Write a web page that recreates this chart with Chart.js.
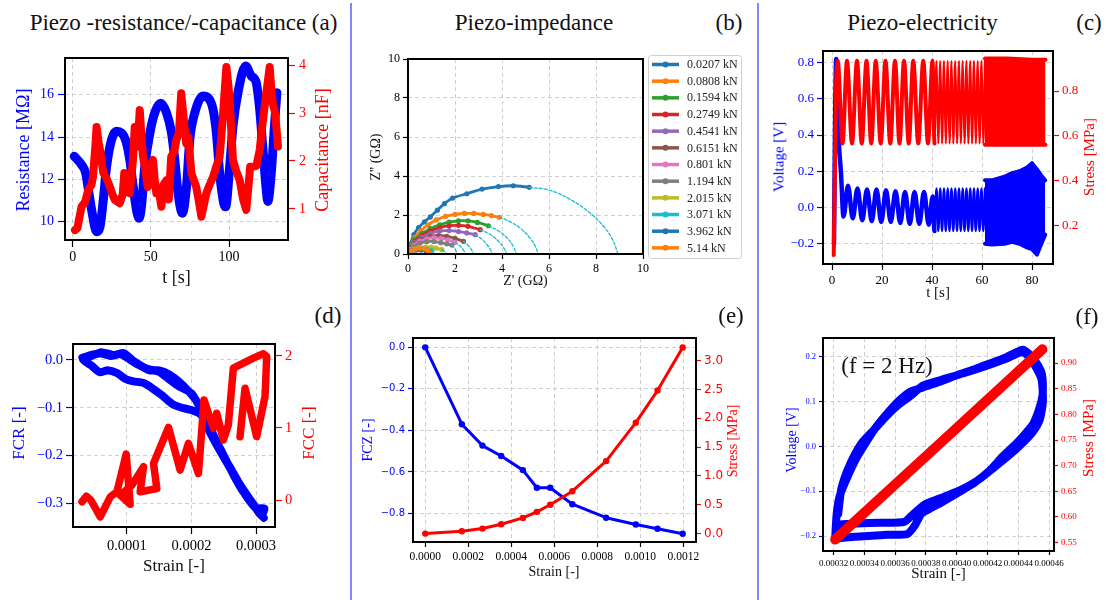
<!DOCTYPE html>
<html>
<head>
<meta charset="utf-8">
<title>Piezo responses</title>
<script src="https://cdn.jsdelivr.net/npm/chart.js@4.4.0/dist/chart.umd.min.js"></script>
<style>
  html, body { margin: 0; padding: 0; background: #fff; overflow: hidden; }
  #page { position: relative; width: 1106px; height: 600px; }
  #page canvas { position: absolute; z-index: 1; }
  .lbl { position: absolute; z-index: 2; white-space: nowrap; line-height: 1;
         font-family: 'Liberation Serif', 'Times New Roman', serif; color: #111;
         transform: translate(-50%, -50%); }
  .rot { transform: translate(-50%, -50%) rotate(-90deg); }
  .blue { color: #0000ff; }
  .red { color: #ff0000; }
  .sep { position: absolute; top: 3px; width: 2px; height: 597px; background: #8585ff; }
</style>
</head>
<body>
<div id="page">
  <div class="sep" style="left:350px"></div>
  <div class="sep" style="left:757px"></div>

  <div class="lbl" style="left:183.5px;top:22px;font-size:23px">Piezo -resistance/-capacitance (a)</div>
  <div class="lbl" style="left:534px;top:22px;font-size:23px">Piezo-impedance</div>
  <div class="lbl" style="left:729px;top:22px;font-size:23px">(b)</div>
  <div class="lbl" style="left:922.5px;top:22px;font-size:23px">Piezo-electricity</div>
  <div class="lbl" style="left:1089px;top:22px;font-size:23px">(c)</div>
  <div class="lbl" style="left:328px;top:315px;font-size:23px">(d)</div>
  <div class="lbl" style="left:731px;top:315px;font-size:23px">(e)</div>
  <div class="lbl" style="left:1087px;top:316px;font-size:23px">(f)</div>

  <div class="lbl rot blue" style="left:22.5px;top:150px;font-size:18px">Resistance [MΩ]</div>
  <div class="lbl rot red" style="left:321.5px;top:150px;font-size:18px">Capacitance [nF]</div>
  <div class="lbl" style="left:176.5px;top:277px;font-size:18px">t [s]</div>

  <div class="lbl rot" style="left:376px;top:157px;font-size:14px">Z'' (GΩ)</div>
  <div class="lbl" style="left:525.5px;top:281px;font-size:14px">Z' (GΩ)</div>

  <div class="lbl rot blue" style="left:779px;top:157px;font-size:15px">Voltage [V]</div>
  <div class="lbl rot red" style="left:1089px;top:157px;font-size:15px">Stress [MPa]</div>
  <div class="lbl" style="left:938px;top:292px;font-size:15px">t [s]</div>

  <div class="lbl rot blue" style="left:18px;top:433px;font-size:17px">FCR [-]</div>
  <div class="lbl rot red" style="left:307.5px;top:433px;font-size:17px">FCC [-]</div>
  <div class="lbl" style="left:174px;top:565px;font-size:17px">Strain [-]</div>

  <div class="lbl rot blue" style="left:368px;top:440px;font-size:14px">FCZ [-]</div>
  <div class="lbl rot red" style="left:733px;top:441px;font-size:14px">Stress [MPa]</div>
  <div class="lbl" style="left:554px;top:572px;font-size:14px">Strain [-]</div>

  <div class="lbl rot blue" style="left:791.5px;top:440px;font-size:14px">Voltage [V]</div>
  <div class="lbl rot red" style="left:1088px;top:438px;font-size:15px">Stress [MPa]</div>
  <div class="lbl" style="left:938.5px;top:573px;font-size:15px">Strain [-]</div>
  <div class="lbl" style="left:887px;top:365px;font-size:23px">(f = 2 Hz)</div>
</div>

<script>
/* ---------- (a) resistance and capacitance over time ---------- */
const aTimeR = [1, 5.7, 8.3, 10.4, 12.5, 15.3, 17.5, 19.6, 21.7, 24.9, 28, 31.2, 34.4, 36.5, 38.7,
  40.8, 42.5, 44, 46.1, 49.4, 52.5, 56.3, 60, 63.2, 65.3, 67.4, 70.2, 72.8, 74.9, 78.1, 83.4, 86.6,
  89.8, 91.9, 94, 96.6, 97.8, 100.4, 102.5, 105.7, 110.6, 114.2, 117.4, 119.6, 121.7, 123.8, 124.8,
  127, 129, 130.6];
const aResistance = [13.09, 12.69, 12.3, 11.35, 10.4, 9.52, 9.76, 11.03, 12.6, 13.88, 14.27, 14.2,
  13.72, 12.93, 11.66, 10.56, 10.16, 10.71, 12.6, 14.2, 15.15, 15.6, 15.15, 14.2, 12.93, 11.35, 10.4,
  11.66, 13.88, 15.15, 15.94, 15.86, 15.3, 14.2, 12.3, 10.87, 10.7, 12.6, 14.5, 16.1, 17.36, 16.89,
  16.57, 15.3, 13.4, 11.5, 10.95, 12.3, 14.5, 16.1];
const aTimeC = [1.5, 3, 5.7, 8, 10, 12, 13, 14.5, 15.3, 16.5, 17.5, 19.6, 21.5, 23.8, 25.5, 27, 30.1,
  32, 33, 34.5, 36.5, 38.5, 39.7, 41.5, 42.9, 44, 45, 46.5, 48, 49.5, 51.4, 52.5, 53.5, 55, 56.7, 58,
  60, 61.5, 63, 65, 66.3, 68, 69.4, 71, 72.6, 74, 75.9, 77.5, 79, 80.5, 82.3, 84, 85.5, 87.5, 89.8, 92,
  94, 96, 98.3, 99.5, 100.4, 101.5, 102.5, 104.5, 106.8, 109, 111, 112.5, 113.5, 115.3, 117.5, 119.6,
  121.5, 123.8, 126, 127, 128, 129.5, 131.3];
const aCapacitance = [0.56, 0.6, 1.05, 1.15, 1.4, 1.5, 1.67, 2.3, 2.71, 2.4, 2.23, 1.75, 1.65, 1.46,
  1.3, 1.19, 1.12, 1.3, 1.75, 1.7, 1.33, 2.0, 2.71, 2.3, 3.06, 2.5, 2.09, 1.8, 1.46, 1.9, 2.02, 1.6,
  1.33, 1.4, 1.05, 1.5, 1.6, 1.2, 2.09, 2.2, 2.44, 2.6, 3.41, 2.9, 2.37, 2.5, 1.75, 1.6, 1.46, 1.2,
  0.84, 1.1, 1.33, 1.5, 1.67, 1.9, 2.09, 2.9, 3.96, 3.6, 3.27, 2.6, 2.02, 1.8, 1.6, 1.2, 0.98, 1.5,
  1.88, 1.88, 1.9, 2.23, 2.8, 3.41, 3.96, 3.5, 3.2, 3.0, 2.3];
const aTimeTicks = [0, 50, 100];
const aResTicks = [10, 12, 14, 16];
const aCapTicks = [1, 2, 3, 4];

/* ---------- (b) Nyquist plots per load ---------- */
const bLoads = ['0.0207 kN', '0.0808 kN', '0.1594 kN', '0.2749 kN', '0.4541 kN', '0.6151 kN',
  '0.801 kN', '1.194 kN', '2.015 kN', '3.071 kN', '3.962 kN', '5.14 kN'];
const bZre = [
  [0, 0.1, 0.25, 0.45, 0.7, 0.95, 1.25, 1.55, 1.9, 2.5, 3.15, 3.85, 4.48, 5.16],
  [0, 0.1, 0.3, 0.55, 0.85, 1.2, 1.6, 2.0, 2.4, 2.8, 3.2, 3.55, 3.89],
  [0, 0.1, 0.3, 0.6, 0.95, 1.35, 1.75, 2.15, 2.55, 2.95, 3.42],
  [0, 0.1, 0.3, 0.6, 0.95, 1.35, 1.75, 2.15, 2.55, 3.07],
  [0, 0.1, 0.3, 0.6, 0.95, 1.35, 1.75, 2.15, 2.5, 2.86],
  [0, 0.1, 0.3, 0.6, 0.95, 1.3, 1.65, 2.0, 2.36],
  [0, 0.08, 0.25, 0.5, 0.8, 1.1, 1.4, 1.7, 2.0],
  [0, 0.08, 0.25, 0.5, 0.8, 1.1, 1.4, 1.65, 1.87],
  [0, 0.08, 0.25, 0.5, 0.75, 1.0, 1.2, 1.44],
  [0, 0.07, 0.2, 0.4, 0.6, 0.8, 1.0],
  [0, 0.06, 0.18, 0.35, 0.55, 0.75, 0.9],
  [0.05, 0.15, 0.3, 0.5, 0.7, 0.85, 0.92]
];
const bZim = [
  [0, 0.5, 1.0, 1.35, 1.65, 1.9, 2.25, 2.58, 2.87, 3.09, 3.33, 3.46, 3.5, 3.42],
  [0, 0.4, 0.85, 1.2, 1.5, 1.75, 1.93, 2.03, 2.08, 2.08, 2.03, 1.97, 1.88],
  [0, 0.35, 0.75, 1.05, 1.3, 1.5, 1.63, 1.7, 1.7, 1.62, 1.45],
  [0, 0.3, 0.65, 0.95, 1.18, 1.35, 1.45, 1.47, 1.42, 1.25],
  [0, 0.28, 0.58, 0.85, 1.05, 1.18, 1.2, 1.15, 1.08, 0.99],
  [0, 0.25, 0.52, 0.75, 0.9, 0.95, 0.9, 0.8, 0.65],
  [0, 0.22, 0.45, 0.65, 0.78, 0.83, 0.8, 0.72, 0.6],
  [0, 0.18, 0.38, 0.55, 0.63, 0.64, 0.58, 0.52, 0.46],
  [0, 0.12, 0.25, 0.33, 0.36, 0.35, 0.3, 0.22],
  [0, 0.1, 0.18, 0.24, 0.26, 0.24, 0.18],
  [0, 0.08, 0.15, 0.2, 0.21, 0.18, 0.12],
  [0.02, 0.15, 0.25, 0.3, 0.27, 0.17, 0.05]
];
// fitted arcs, continued from the last measured point down to the real axis
const bFitZre = [
  [5.16, 6.0, 6.9, 7.7, 8.3, 8.7, 8.94], [3.89, 4.4, 4.85, 5.2, 5.42, 5.54],
  [3.42, 3.85, 4.2, 4.45, 4.62], [3.07, 3.5, 3.85, 4.08, 4.2], [2.86, 3.15, 3.38, 3.52, 3.57],
  [2.36, 2.55, 2.7, 2.78], [2.0, 2.2, 2.36, 2.45], [1.87, 1.98, 2.05, 2.08], [1.44, 1.56, 1.65],
  [1.0, 1.1, 1.17], [0.9, 0.97, 1.0], [0.92, 0.95]
];
const bFitZim = [
  [3.42, 3.28, 2.8, 2.15, 1.45, 0.75, 0], [1.88, 1.62, 1.25, 0.8, 0.4, 0],
  [1.45, 1.18, 0.85, 0.45, 0], [1.25, 1.0, 0.65, 0.3, 0], [0.99, 0.75, 0.45, 0.2, 0],
  [0.65, 0.45, 0.22, 0], [0.6, 0.42, 0.2, 0], [0.46, 0.3, 0.14, 0], [0.22, 0.12, 0],
  [0.18, 0.1, 0], [0.12, 0.06, 0], [0.05, 0]
];
const bTicks = [0, 2, 4, 6, 8, 10];

/* ---------- (c) voltage and stress over time ---------- */
const cTimeV = [0.8, 1.3, 1.7, 2.1, 2.7, 3.6, 4.6, 6.4, 8.3, 10.2, 12.1, 14.0, 15.9, 17.8, 19.7,
  21.6, 23.5, 25.4, 27.3, 29.2, 31.1, 33.0, 34.9, 36.8, 38.7, 40.3,
  41.0, 41.8, 42.5, 43.3, 44.0, 44.8, 45.5, 46.3, 47.0, 47.8, 48.5, 49.3, 50.0, 50.8, 51.5, 52.3,
  53.0, 53.8, 54.5, 55.3, 56.0, 56.8, 57.5, 58.3, 59.0, 59.8, 60.5, 61.2];
const cVoltage = [-0.2, 0.55, 0.82, 0.62, 0.37, 0.19, -0.05, 0.12, -0.06, 0.105, -0.07, 0.10,
  -0.075, 0.10, -0.08, 0.095, -0.08, 0.09, -0.085, 0.085, -0.09, 0.085, -0.09, 0.085, -0.095, 0.06,
  -0.13, 0.105, -0.13, 0.105, -0.13, 0.105, -0.13, 0.105, -0.13, 0.105, -0.13, 0.105, -0.13, 0.105,
  -0.13, 0.105, -0.13, 0.105, -0.13, 0.105, -0.13, 0.105, -0.13, 0.105, -0.13, 0.105, -0.13, 0.105];
const cTimeVDense = [61.2, 64, 69, 72, 75, 78, 80, 82, 84, 85.3];
const cVoltUpper = [0.15, 0.15, 0.17, 0.19, 0.2, 0.22, 0.245, 0.21, 0.17, 0.15];
const cVoltLower = [-0.2, -0.205, -0.2, -0.19, -0.2, -0.22, -0.23, -0.26, -0.19, -0.15];
const cTimeS = [0.7, 1.6, 2.3, 4.2, 6.0, 8.0, 10.0, 11.9, 13.8, 15.7, 17.5, 19.5, 21.4, 23.3, 25.2,
  27.0, 28.8, 30.7, 32.5, 34.5, 36.5, 38.4, 40.2,
  41.0, 41.8, 42.5, 43.3, 44.0, 44.8, 45.5, 46.3, 47.0, 47.8, 48.5, 49.3, 50.0, 50.8, 51.5, 52.3,
  53.0, 53.8, 54.5, 55.3, 56.0, 56.8, 57.5, 58.3, 59.0, 59.8, 60.5, 61.2];
const cStress = [0.066, 0.80, 0.935, 0.565, 0.935, 0.565, 0.935, 0.565, 0.935, 0.565, 0.935, 0.565,
  0.935, 0.565, 0.935, 0.565, 0.935, 0.565, 0.935, 0.565, 0.935, 0.565, 0.935,
  0.565, 0.935, 0.565, 0.935, 0.565, 0.935, 0.565, 0.935, 0.565, 0.935, 0.565, 0.935, 0.565, 0.935,
  0.565, 0.935, 0.565, 0.935, 0.565, 0.935, 0.565, 0.935, 0.565, 0.935, 0.565, 0.935, 0.565, 0.935];
const cTimeSDense = [61.2, 70, 80, 85.4];
const cStressUpper = [0.945, 0.945, 0.94, 0.94];
const cStressLower = [0.56, 0.56, 0.56, 0.56];
const cTimeTicks = [0, 20, 40, 60, 80];
const cVoltTicks = [-0.2, 0, 0.2, 0.4, 0.6, 0.8];
const cStressTicks = [0.2, 0.4, 0.6, 0.8];

/* ---------- (d) fractional change of resistance / capacitance vs strain ---------- */
const dStrainR = [0.000031, 0.000045, 0.000060, 0.000075, 0.000090, 0.000105, 0.000120, 0.000135,
  0.000150, 0.000165, 0.000180, 0.000195, 0.000210, 0.000222, 0.000235, 0.000250, 0.000265,
  0.000280, 0.000295, 0.000308, 0.000313,
  0.000300, 0.000285, 0.000270, 0.000255, 0.000240, 0.000228, 0.000215, 0.000200, 0.000185,
  0.000170, 0.000155, 0.000140, 0.000125, 0.000110, 0.000098, 0.000085, 0.000070, 0.000058,
  0.000045, 0.000032,
  0.000045, 0.000060, 0.000080, 0.000095, 0.000110, 0.000130, 0.000150, 0.000165, 0.000180,
  0.000200, 0.000215, 0.000230, 0.000245, 0.000260, 0.000275, 0.000290, 0.000305, 0.000312];
const dFCR = [0.004, 0.010, 0.013, 0.008, 0.012, 0.000, -0.012, -0.022, -0.022, -0.030, -0.045,
  -0.065, -0.090, -0.120, -0.160, -0.200, -0.240, -0.275, -0.300, -0.325, -0.310,
  -0.310, -0.285, -0.250, -0.215, -0.180, -0.150, -0.115, -0.105, -0.100, -0.092, -0.075, -0.060,
  -0.048, -0.045, -0.040, -0.028, -0.022, -0.026, -0.012, 0.000,
  0.008, 0.016, 0.010, 0.014, -0.002, -0.018, -0.025, -0.040, -0.055, -0.070, -0.105, -0.150,
  -0.190, -0.225, -0.260, -0.290, -0.318, -0.330];
const dStrainC = [0.0000304, 0.0000371, 0.0000443, 0.0000587, 0.0000742, 0.0000845, 0.0000989,
  0.000105, 0.0000897, 0.0001077, 0.0001257, 0.0001206, 0.0001464, 0.0001412, 0.0001644, 0.0001824,
  0.0001953, 0.0002108, 0.0002195, 0.000234, 0.0002391, 0.0002494, 0.0002571, 0.0002649, 0.0002958,
  0.0003113, 0.0003165, 0.0003149, 0.0003139, 0.000301, 0.000283, 0.0002752];
const dFCC = [-0.023, 0.056, 0.0, -0.231, 0.046, 0.116, 0.639, -0.056, 0.069, 0.208, 0.463, 0.116,
  0.162, 0.509, 1.009, 0.417, 0.787, 0.370, 1.389, 0.995, 1.204, 0.833, 1.042, 1.829, 1.968, 2.028,
  1.991, 1.620, 1.435, 0.880, 1.551, 0.880];
const dStrainTicks = [0.0001, 0.0002, 0.0003];
const dFCRTicks = [-0.3, -0.2, -0.1, 0];
const dFCCTicks = [0, 1, 2];

/* ---------- (e) fractional change of impedance and stress vs strain ---------- */
const eStrain = [0, 0.00017, 0.000266, 0.000353, 0.000454, 0.000519, 0.000581, 0.000684, 0.000841,
  0.000979, 0.00108, 0.001197];
const eFCZ = [0, -0.37, -0.473, -0.523, -0.591, -0.676, -0.676, -0.755, -0.82, -0.853, -0.873, -0.897];
const eStress = [0.0, 0.04, 0.087, 0.162, 0.272, 0.377, 0.5, 0.736, 1.258, 1.926, 2.483, 3.23];
const eStrainTicks = [0, 0.0002, 0.0004, 0.0006, 0.0008, 0.0010, 0.0012];
const eFCZTicks = [-0.8, -0.6, -0.4, -0.2, 0];
const eStressTicks = [0, 0.5, 1.0, 1.5, 2.0, 2.5, 3.0];

/* ---------- (f) voltage and stress vs strain at 2 Hz ---------- */
const fStrainV = [0.000321, 0.000322, 0.000324, 0.000329, 0.000335, 0.000342, 0.000348, 0.000355,
  0.000362, 0.000369, 0.000378, 0.000390, 0.000400, 0.000412, 0.000422, 0.000432, 0.000443,
  0.000450, 0.000455, 0.000456, 0.000455, 0.000450, 0.000445, 0.000439, 0.000430, 0.000422,
  0.000412, 0.000400, 0.000390, 0.000383, 0.000377, 0.000373, 0.000368, 0.000355, 0.000340,
  0.000328, 0.000321,
  0.000322, 0.000323, 0.000335, 0.000350, 0.000366, 0.000372, 0.000380, 0.000392, 0.000402,
  0.000414, 0.000424, 0.000434, 0.000442, 0.000449, 0.000454, 0.000456, 0.000455, 0.000449,
  0.000443, 0.000432, 0.000420, 0.000405, 0.000390, 0.000378, 0.000370, 0.000362, 0.000354,
  0.000346, 0.000338, 0.000330, 0.000325, 0.000323];
const fVoltage = [-0.205, -0.150, -0.110, -0.068, -0.025, 0.014, 0.045, 0.074, 0.100, 0.120, 0.131,
  0.145, 0.158, 0.172, 0.185, 0.198, 0.215, 0.195, 0.165, 0.130, 0.100, 0.052, 0.030, 0.007,
  -0.022, -0.052, -0.080, -0.105, -0.125, -0.138, -0.150, -0.175, -0.195, -0.197, -0.200, -0.203,
  -0.205,
  -0.190, -0.175, -0.172, -0.170, -0.168, -0.150, -0.128, -0.112, -0.098, -0.075, -0.048, -0.020,
  0.005, 0.030, 0.060, 0.100, 0.150, 0.190, 0.210, 0.195, 0.180, 0.163, 0.148, 0.135, 0.112, 0.092,
  0.066, 0.036, 0.006, -0.045, -0.095, -0.150];
const fStrainS = [0.000321, 0.00039, 0.0004557];
const fStress = [0.556, 0.746, 0.927];
const fStrainTicks = [0.00032, 0.00034, 0.00036, 0.00038, 0.00040, 0.00042, 0.00044, 0.00046];
const fVoltTicks = [-0.2, -0.1, 0, 0.1, 0.2];
const fStressTicks = [0.55, 0.60, 0.65, 0.70, 0.75, 0.80, 0.85, 0.90];

/* ---------- shared styling ---------- */
const SERIF = "'Liberation Serif', 'Times New Roman', serif";
const SANS = "'DejaVu Sans', sans-serif";
const BLUE = '#0000ff';
const RED = '#ff0000';
const TAB10 = ['#1f77b4', '#ff7f0e', '#2ca02c', '#d62728', '#9467bd', '#8c564b',
  '#e377c2', '#7f7f7f', '#bcbd22', '#17becf', '#1f77b4', '#ff7f0e'];

function fmt(dec) {
  return v => (v < -1e-12 ? '\u2212' : '') + Math.abs(v).toFixed(dec);
}

function pts(xs, ys) {
  return xs.map((x, i) => ({ x, y: ys[i] }));
}

function line(xs, ys, axisId, color, width, extra) {
  return Object.assign({
    data: pts(xs, ys), yAxisID: axisId, borderColor: color, backgroundColor: color,
    borderWidth: width, pointRadius: 0, tension: 0, fill: false, clip: 0
  }, extra || {});
}

// thinner strokes once the loading frequency steps up after ~40 s
function thinAfter(t, wide, thin) {
  return { borderWidth: c => (c.p0.parsed.x >= t ? thin : wide) };
}

function axis(pos, spec, size) {
  return {
    type: 'linear', position: pos, min: spec.min, max: spec.max,
    afterBuildTicks: s => { s.ticks = spec.ticks.map(value => ({ value })); },
    afterFit: s => { if (pos === 'bottom') s.height = size; else s.width = size; },
    ticks: {
      color: spec.color || '#000', padding: spec.pad ?? 3, callback: fmt(spec.dec),
      font: { family: spec.family || SERIF, size: spec.size },
      autoSkip: false, maxRotation: 0, minRotation: 0
    },
    grid: {
      drawOnChartArea: !!spec.grid, color: '#c4c4c4', lineWidth: 0.8,
      tickLength: spec.tick ?? 6, tickColor: spec.color || '#000', tickWidth: 1.2
    },
    border: { display: false, dash: [4, 3] }
  };
}

// black frame around each plotting area
const frame = {
  id: 'frame',
  afterDatasetsDraw(chart) {
    const { ctx, chartArea: a } = chart;
    ctx.save();
    ctx.strokeStyle = '#000';
    ctx.lineWidth = 2;
    ctx.strokeRect(a.left, a.top, a.right - a.left, a.bottom - a.top);
    ctx.restore();
  }
};

function panel(box, cfg) {
  const [L, T, R, B] = box;
  const ML = 60, MT = 16, MB = 40, MR = cfg.mr || 50;
  const cv = document.createElement('canvas');
  cv.width = R - L + ML + MR;
  cv.height = B - T + MT + MB;
  cv.style.left = (L - ML) + 'px';
  cv.style.top = (T - MT) + 'px';
  document.getElementById('page').appendChild(cv);

  const scales = { x: axis('bottom', cfg.x, MB), yL: axis('left', cfg.yL, ML) };
  if (cfg.yR) scales.yR = axis('right', cfg.yR, MR);

  return new Chart(cv, {
    type: 'line',
    data: { datasets: cfg.datasets },
    options: {
      responsive: false,
      animation: false,
      devicePixelRatio: 1,
      layout: { padding: { top: MT, left: 0, bottom: 0, right: cfg.yR ? 0 : MR } },
      plugins: { legend: { display: false }, tooltip: { enabled: false } },
      elements: { line: { borderCapStyle: 'round', borderJoinStyle: 'round' } },
      scales
    },
    plugins: [frame].concat(cfg.plugins || [])
  });
}

/* ---------- (a) ---------- */
panel([65, 58, 288, 240], {
  x: { min: -4.9, max: 137.7, ticks: aTimeTicks, dec: 0, size: 14, grid: true, tick: 7, pad: 2 },
  yL: { min: 9.13, max: 17.74, ticks: aResTicks, dec: 0, size: 14, grid: true, color: BLUE, tick: 7, pad: 4 },
  yR: { min: 0.354, max: 4.146, ticks: aCapTicks, dec: 0, size: 14, color: RED, tick: 7, pad: 4 },
  datasets: [
    line(aTimeC, aCapacitance, 'yR', RED, 8, { order: 0 }),
    line(aTimeR, aResistance, 'yL', BLUE, 9, { order: 1, cubicInterpolationMode: 'monotone' })
  ]
});

/* ---------- (b) ---------- */
const nyquistLegend = {
  id: 'nyquistLegend',
  afterDraw(chart) {
    const { ctx, chartArea: a } = chart;
    const x0 = a.right + 5, y0 = a.top - 4, rowH = 16.67;
    ctx.save();
    ctx.beginPath();
    ctx.roundRect(x0 + 0.5, y0 + 0.5, 93, 203, 3);
    ctx.fillStyle = '#fff';
    ctx.fill();
    ctx.strokeStyle = '#d0d0d0';
    ctx.lineWidth = 1;
    ctx.stroke();
    ctx.font = '12px ' + SERIF;
    ctx.textBaseline = 'middle';
    bLoads.forEach((name, i) => {
      const y = y0 + 9.5 + i * rowH;
      ctx.strokeStyle = TAB10[i];
      ctx.lineWidth = 3.5;
      ctx.beginPath();
      ctx.moveTo(x0 + 4, y);
      ctx.lineTo(x0 + 31, y);
      ctx.stroke();
      ctx.fillStyle = TAB10[i];
      ctx.beginPath();
      ctx.arc(x0 + 17.5, y, 3, 0, Math.PI * 2);
      ctx.fill();
      ctx.fillStyle = '#222';
      ctx.fillText(name, x0 + 39, y + 0.5);
    });
    ctx.restore();
  }
};

const bSets = [];
bZre.forEach((xs, i) => {
  bSets.push(line(xs, bZim[i], 'yL', TAB10[i], 2.8,
    { pointRadius: 2.6, pointBorderWidth: 0, tension: 0.3, order: 100 - 2 * i }));
  bSets.push(line(bFitZre[i], bFitZim[i], 'yL', '#17becf', 1.3,
    { borderDash: [3, 2], tension: 0.4, order: 99 - 2 * i }));
});

panel([408, 59, 643, 254], {
  mr: 105,
  x: { min: 0, max: 10, ticks: bTicks, dec: 0, size: 12, grid: true, tick: 5 },
  yL: { min: 0, max: 10, ticks: bTicks, dec: 0, size: 12, grid: true, tick: 5 },
  datasets: bSets,
  plugins: [nyquistLegend]
});

/* ---------- (c) ---------- */
panel([823, 51, 1053, 264], {
  x: { min: -3.6, max: 88.4, ticks: cTimeTicks, dec: 0, size: 13, grid: true, tick: 6 },
  yL: { min: -0.312, max: 0.864, ticks: cVoltTicks, dec: 1, size: 13, grid: true, color: BLUE, tick: 6 },
  yR: { min: 0.026, max: 0.979, ticks: cStressTicks, dec: 1, size: 13, color: RED, tick: 6 },
  datasets: [
    line(cTimeS, cStress, 'yR', RED, 4,
      { order: 0, cubicInterpolationMode: 'monotone', segment: thinAfter(40.5, 4, 2.2) }),
    line(cTimeSDense, cStressUpper, 'yR', RED, 4, { order: 0, fill: '+1' }),
    line(cTimeSDense, cStressLower, 'yR', RED, 4, { order: 0 }),
    line(cTimeV, cVoltage, 'yL', BLUE, 4.5,
      { order: 1, cubicInterpolationMode: 'monotone', segment: thinAfter(40.5, 4.5, 2.4) }),
    line(cTimeVDense, cVoltUpper, 'yL', BLUE, 4, { order: 1, fill: '+1' }),
    line(cTimeVDense, cVoltLower, 'yL', BLUE, 4, { order: 1 })
  ]
});

/* ---------- (d) ---------- */
panel([73, 344, 275, 527], {
  x: { min: 0.0000165, max: 0.0003294, ticks: dStrainTicks, dec: 4, size: 14.5, grid: true, tick: 7 },
  yL: { min: -0.349, max: 0.033, ticks: dFCRTicks, dec: 1, size: 14.5, grid: true, color: BLUE, tick: 7 },
  yR: { min: -0.371, max: 2.163, ticks: dFCCTicks, dec: 0, size: 14.5, color: RED, tick: 7 },
  datasets: [
    line(dStrainC, dFCC, 'yR', RED, 7.5, { order: 0 }),
    line(dStrainR, dFCR, 'yL', BLUE, 8, { order: 1, tension: 0.2 })
  ]
});

/* ---------- (e) ---------- */
panel([413, 338, 696, 542], {
  x: { min: -0.0000571, max: 0.001259, ticks: eStrainTicks, dec: 4, size: 11.5, grid: true, tick: 5 },
  yL: { min: -0.937, max: 0.045, ticks: eFCZTicks, dec: 1, size: 10, family: SANS, grid: true, color: BLUE, tick: 5 },
  yR: { min: -0.146, max: 3.395, ticks: eStressTicks, dec: 1, size: 12, family: SANS, color: RED, tick: 5 },
  datasets: [
    line(eStrain, eStress, 'yR', RED, 3, { order: 0, pointRadius: 3.2, pointBorderWidth: 0 }),
    line(eStrain, eFCZ, 'yL', BLUE, 3, { order: 1, pointRadius: 3.2, pointBorderWidth: 0 })
  ]
});

/* ---------- (f) ---------- */
panel([823, 338, 1054, 551], {
  x: { min: 0.0003131, max: 0.0004632, ticks: fStrainTicks, dec: 5, size: 9, grid: true, tick: 4 },
  yL: { min: -0.233, max: 0.241, ticks: fVoltTicks, dec: 1, size: 8.5, grid: true, color: BLUE, tick: 4 },
  yR: { min: 0.5336, max: 0.949, ticks: fStressTicks, dec: 2, size: 9, color: RED, tick: 4 },
  datasets: [
    line(fStrainS, fStress, 'yR', RED, 10, { order: 0 }),
    line(fStrainV, fVoltage, 'yL', BLUE, 8, { order: 1, tension: 0.2 })
  ]
});
</script>
</body>
</html>
